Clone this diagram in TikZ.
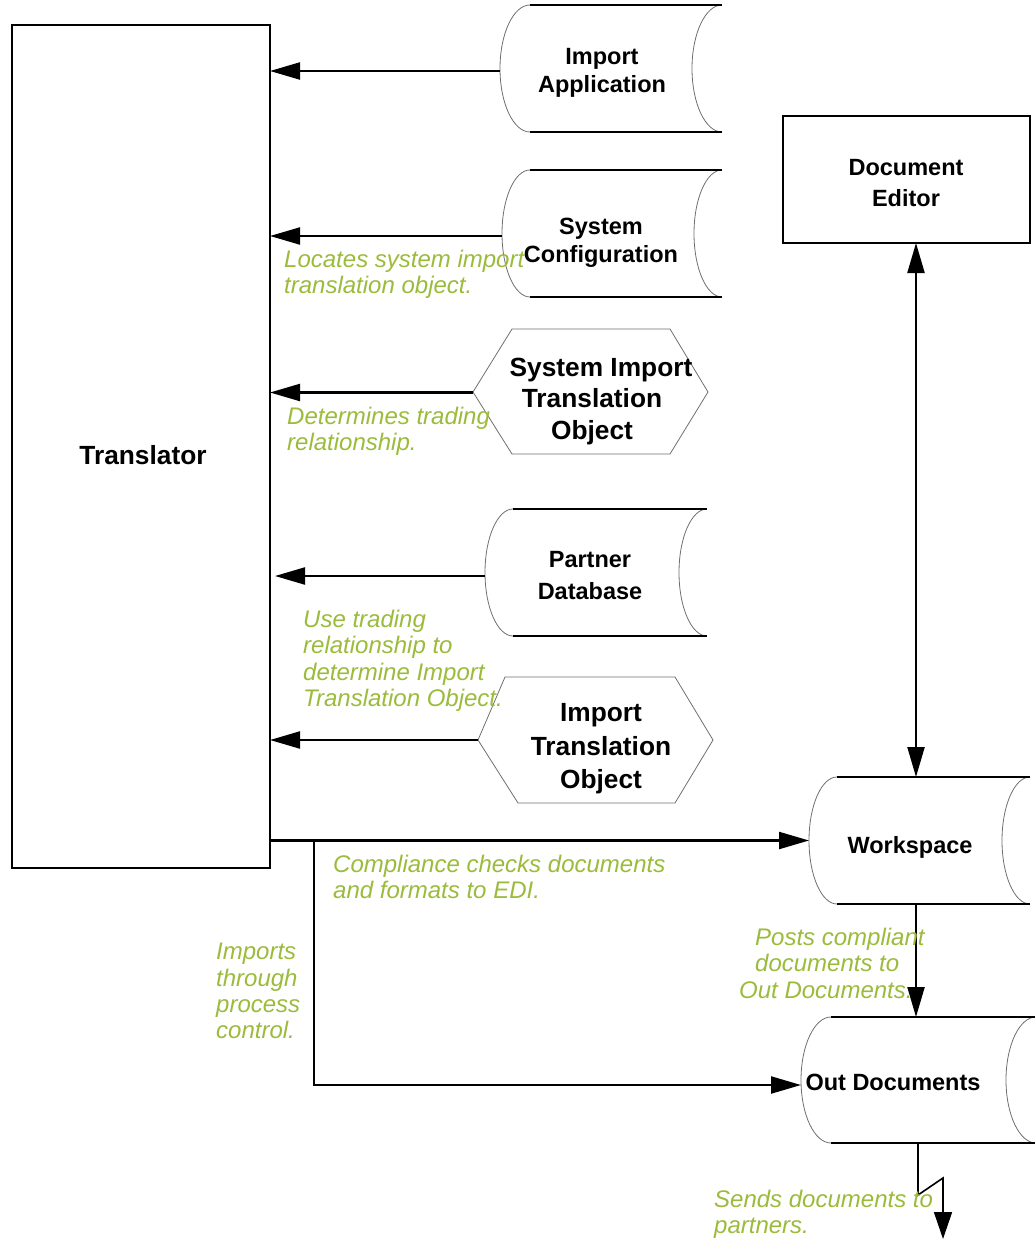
\documentclass[tikz,border=0pt]{standalone}
\usepackage{fontspec}
\setmainfont{Liberation Sans}
\usetikzlibrary{arrows.meta,calc}
\definecolor{lbl}{RGB}{155,187,59}
\definecolor{edge}{RGB}{110,110,110}

% stored-data shape: L T R B depth
\newcommand\sdshape[5]{%
 \pgfmathsetmacro\sdM{(#2+#4)/2}%
 \pgfmathsetmacro\sdH{(#4-#2)/2*0.5523}%
 \pgfmathsetmacro\sdK{#5*0.5523}%
 \draw[shapeline] (#1+#5,#2) .. controls (#1+#5-\sdK,#2) and (#1,\sdM-\sdH) .. (#1,\sdM) .. controls (#1,\sdM+\sdH) and (#1+#5-\sdK,#4) .. (#1+#5,#4);
 \draw[shapeline] (#3,#2) .. controls (#3-\sdK,#2) and (#3-#5,\sdM-\sdH) .. (#3-#5,\sdM) .. controls (#3-#5,\sdM+\sdH) and (#3-\sdK,#4) .. (#3,#4);
 \draw[rimline] (#1+#5,#2) -- (#3,#2) (#1+#5,#4) -- (#3,#4);
}

\begin{document}
\begin{tikzpicture}[x=1pt,y=-1pt,
  shapeline/.style={draw=edge, line width=0.8pt},
  rimline/.style={draw=black, line width=1.4pt},
  box/.style={draw=none, inner sep=0pt, outer sep=0pt},
  rectbox/.style={draw=black, line width=2pt, inner sep=0pt, outer sep=0pt},
  bold/.style={font=\bfseries\fontsize{23.5}{28}\selectfont, align=center, inner sep=0pt},
  boldbig/.style={font=\bfseries\fontsize{26.3}{31.5}\selectfont, align=center, inner sep=0pt},
  note/.style={font=\itshape\fontsize{24}{26.3}\selectfont, text=lbl, align=left, inner sep=0pt, anchor=north west},
  arr/.style={line width=2.2pt, -{Triangle[length=30pt,width=17pt]}},
  arrtwo/.style={line width=2.2pt, {Triangle[length=30pt,width=17pt]}-{Triangle[length=30pt,width=17pt]}},
  zz/.style={line width=1.6pt, -{Triangle[length=27pt,width=18pt]}}
]
\useasboundingbox (0,0) rectangle (1034,1239);

% rectangles
\node[rectbox, minimum width=258pt, minimum height=843pt] (tr) at (141,446.5) {};
\node[rectbox, minimum width=247pt, minimum height=127pt] (de) at (906.5,179.5) {};

% stored-data boxes
\node[box, minimum width=222pt, minimum height=127pt] (ia) at (611,68.5) {};
\sdshape{500}{5}{722}{132}{30}
\node[box, minimum width=220pt, minimum height=127pt] (sc) at (612,233.5) {};
\sdshape{502}{170}{722}{297}{28}
\node[box, minimum width=222pt, minimum height=127pt] (pd) at (596,572.5) {};
\sdshape{485}{509}{707}{636}{28}
\node[box, minimum width=221pt, minimum height=127pt] (ws) at (919.5,840.5) {};
\sdshape{809}{777}{1030}{904}{28}
\node[box, minimum width=235pt, minimum height=126pt] (od) at (918.5,1080) {};
\sdshape{801}{1017}{1036}{1143}{30}

% hexagons
\node[box, minimum width=235pt, minimum height=125pt] (sito) at (590.5,391.5) {};
\draw[shapeline] (512,329) -- (670,329) -- (708,392) -- (670,454) -- (512,454) -- (473,392) -- cycle;
\node[box, minimum width=235pt, minimum height=126pt] (ito) at (595.5,740) {};
\draw[shapeline] (505,677) -- (675,677) -- (713,740) -- (675,803) -- (518,803) -- (478,740) -- cycle;

% texts of shapes
\node[boldbig] (tr-t) at (143,455) {Translator};
\node[bold, font=\bfseries\fontsize{23.5}{31}\selectfont] (de-t) at (906,183) {Document\\Editor};
\node[bold] (ia-t) at (602,73) {Import\\Application};
\node[bold] (sc-t) at (601,243) {System\\Configuration};
\node[boldbig] (sito-t) at (592,401.5) {\hspace*{18pt}System Import\\Translation\\Object};
\node[bold, font=\bfseries\fontsize{23.5}{32}\selectfont] (pd-t) at (590,576) {Partner\\Database};
\node[boldbig, font=\bfseries\fontsize{26.3}{33.5}\selectfont] (ito-t) at (601,749) {Import\\Translation\\Object};
\node[bold] (ws-t) at (910,847) {Workspace};
\node[bold] (od-t) at (893,1082) {Out Documents};

% connectors
\draw[arr] ([yshift=-2.5pt]ia.west) -- ([yshift=-2.5pt]ia.west -| tr.east);
\draw[arr] ([yshift=-2.5pt]sc.west) -- ([yshift=-2.5pt]sc.west -| tr.east);
\draw[arr] ([yshift=-1pt]sito.west) -- ([yshift=-1pt]sito.west -| tr.east);
\draw[arr, shorten >=5pt] ([yshift=-3.5pt]pd.west) -- ([yshift=-3.5pt]pd.west -| tr.east);
\draw[arr] (ito.west) -- (ito.west -| tr.east);
\draw[arr] (tr.east |- ws.west) -- (ws.west);
\coordinate (br) at (314,840.5);
\draw[arr] (br) |- ([yshift=-5pt]od.west);
\coordinate (vx) at (916,0);
\draw[arrtwo] (de.south -| vx) -- (ws.north -| vx);
\draw[arr] (ws.south -| vx) -- (od.north -| vx);
\coordinate (z1) at (918,1195);
\coordinate (z2) at (943,1178);
\coordinate (zend) at (943,1239);
\draw[zz] (od.south -| z1) -- (z1) -- (z2) -- (zend);

% notes
\node[note] (n1) at (284,250) {Locates system import\\translation object.};
\node[note] (n2) at (287,407) {Determines trading\\relationship.};
\node[note] (n3) at (303,610) {Use trading\\relationship to\\determine Import\\Translation Object.};
\node[note] (n4) at (333,855) {Compliance checks documents\\and formats to EDI.};
\node[note] (n5) at (216,943) {Imports\\through\\process\\control.};
\node[note] (n6) at (755,928) {Posts compliant\\documents to\\\hspace*{-16pt}Out Documents.};
\node[note] (n7) at (714,1190) {Sends documents to\\partners.};
\end{tikzpicture}
\end{document}
